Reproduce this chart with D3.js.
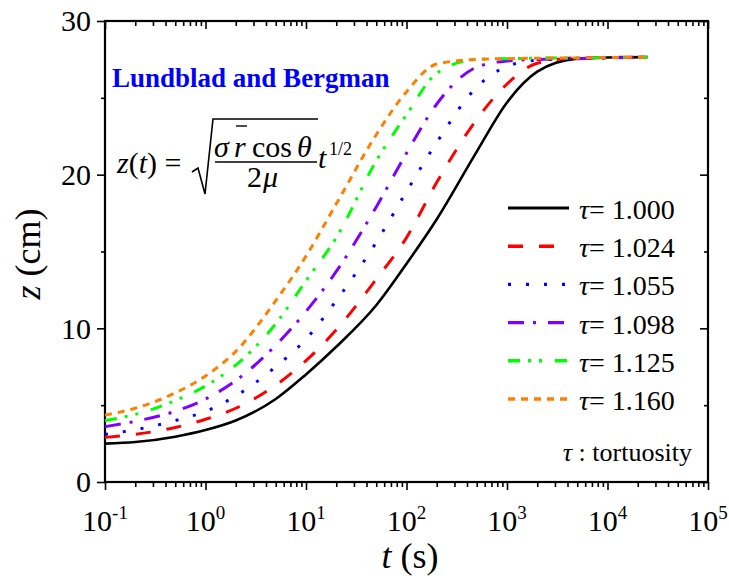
<!DOCTYPE html>
<html>
<head>
<meta charset="utf-8">
<script src="https://cdn.jsdelivr.net/npm/d3@7"></script>
<style>
body { margin: 0; background: #fff; }
svg text { font-family: "Liberation Serif", "Times New Roman", serif; fill: #000; }
</style>
</head>
<body>
<svg width="729" height="580"></svg>
<script>
// data
var times = [0.1, 0.2, 0.5, 1, 2, 5, 10, 20, 50, 100, 200, 500, 1000, 2000, 5000, 10000, 25000];
var tauLabels = ["1.000", "1.024", "1.055", "1.098", "1.125", "1.160"];
var zTau1000 = [2.5, 2.6, 2.95, 3.38, 4.0, 5.4, 7.0, 8.8, 11.5, 14.2, 17.1, 21.5, 24.7, 26.7, 27.55, 27.62, 27.65];
var zTau1024 = [2.9, 3.1, 3.55, 4.08, 4.8, 6.3, 7.9, 9.9, 13.2, 15.9, 19.5, 23.6, 25.9, 27.25, 27.6, 27.63, 27.65];
var zTau1055 = [3.1, 3.4, 4.0, 4.6, 5.6, 7.5, 9.3, 11.8, 15.6, 18.9, 22.1, 25.7, 27.05, 27.45, 27.55, 27.6, 27.65];
var zTau1098 = [3.6, 3.95, 4.6, 5.4, 6.6, 8.9, 11.1, 13.7, 17.9, 21.4, 24.6, 27.0, 27.4, 27.5, 27.55, 27.6, 27.65];
var zTau1125 = [4.0, 4.4, 5.3, 6.25, 7.6, 10.3, 13.1, 15.9, 20.9, 23.9, 26.6, 27.5, 27.55, 27.58, 27.6, 27.62, 27.65];
var zTau1160 = [4.35, 4.8, 5.8, 6.9, 8.5, 11.8, 14.7, 18.1, 22.6, 25.4, 27.2, 27.5, 27.55, 27.58, 27.6, 27.62, 27.65];
var xTickExp = [-1, 0, 1, 2, 3, 4, 5];
var yTicks = [0, 10, 20, 30];

var seriesValues = [zTau1000, zTau1024, zTau1055, zTau1098, zTau1125, zTau1160];
var colors = ["#000000", "#ff0000", "#0000ff", "#8000ff", "#00ff00", "#ff8000"];
var dashes = [null, "15,16", "3,15", "16,9,3,12", "12,8,3,8,3,13", "7,6"];
var widths = [2.6, 3, 3, 3, 3, 3];

var svg = d3.select("svg");
var plotLeft = 105, plotRight = 708, plotTop = 21, plotBottom = 482;

var x = d3.scaleLog().domain([0.1, 1e5]).range([plotLeft, plotRight]);
var y = d3.scaleLinear().domain([0, 30]).range([plotBottom, plotTop]);

// minor ticks
var xMinor = [];
xTickExp.slice(0, -1).forEach(function(e) {
  for (var k = 2; k <= 9; k++) xMinor.push(k * Math.pow(10, e));
});
var xMajor = xTickExp.map(function(e) { return Math.pow(10, e); });
var yMinor = [5, 15, 25];

function styleAxis(g) {
  g.select(".domain").remove();
  g.selectAll("line").attr("stroke", "#000").attr("stroke-width", 1.6);
  g.selectAll("text").remove();
}

// bottom (outward) and top (inward), both pointing down
svg.append("g").attr("transform", "translate(0," + plotBottom + ")")
  .call(d3.axisBottom(x).tickValues(xMajor).tickSize(8)).call(styleAxis);
svg.append("g").attr("transform", "translate(0," + plotBottom + ")")
  .call(d3.axisBottom(x).tickValues(xMinor).tickSize(5)).call(styleAxis);
svg.append("g").attr("transform", "translate(0," + plotTop + ")")
  .call(d3.axisBottom(x).tickValues(xMajor).tickSize(8)).call(styleAxis);
svg.append("g").attr("transform", "translate(0," + plotTop + ")")
  .call(d3.axisBottom(x).tickValues(xMinor).tickSize(5)).call(styleAxis);

// left (outward) and right (inward), both pointing left
svg.append("g").attr("transform", "translate(" + plotLeft + ",0)")
  .call(d3.axisLeft(y).tickValues(yTicks).tickSize(8)).call(styleAxis);
svg.append("g").attr("transform", "translate(" + plotLeft + ",0)")
  .call(d3.axisLeft(y).tickValues(yMinor).tickSize(4)).call(styleAxis);
svg.append("g").attr("transform", "translate(" + plotRight + ",0)")
  .call(d3.axisLeft(y).tickValues(yTicks).tickSize(8)).call(styleAxis);
svg.append("g").attr("transform", "translate(" + plotRight + ",0)")
  .call(d3.axisLeft(y).tickValues(yMinor).tickSize(4)).call(styleAxis);

// frame
svg.append("rect")
  .attr("x", plotLeft).attr("y", plotTop)
  .attr("width", plotRight - plotLeft).attr("height", plotBottom - plotTop)
  .attr("fill", "none").attr("stroke", "#000").attr("stroke-width", 2.2);

// tick labels
svg.selectAll(".ylab").data(yTicks).enter().append("text")
  .attr("class", "ylab")
  .attr("x", plotLeft - 14).attr("y", function(d) { return y(d); })
  .attr("dy", "0.34em")
  .attr("text-anchor", "end")
  .style("font-size", "30px")
  .text(function(d) { return d; });

var xl = svg.selectAll(".xlab").data(xTickExp).enter().append("text")
  .attr("class", "xlab")
  .attr("x", function(d) { return x(Math.pow(10, d)); })
  .attr("y", 531)
  .attr("text-anchor", "middle")
  .style("font-size", "30px");
xl.append("tspan").text("10");
xl.append("tspan").attr("dy", -12).style("font-size", "19px")
  .text(function(d) { return d < 0 ? "-" + (-d) : d; });

// axis titles
var xt = svg.append("text").attr("x", 410).attr("y", 568)
  .attr("text-anchor", "middle").style("font-size", "36px");
xt.append("tspan").style("font-style", "italic").text("t");
xt.append("tspan").text(" (s)");

var yt = svg.append("text")
  .attr("transform", "translate(40,254) rotate(-90)")
  .attr("text-anchor", "middle").style("font-size", "36px");
yt.append("tspan").style("font-style", "italic").text("z");
yt.append("tspan").text(" (cm)");

// curves
var line = d3.line()
  .x(function(d) { return x(d[0]); })
  .y(function(d) { return y(d[1]); })
  .curve(d3.curveMonotoneX);

seriesValues.forEach(function(vals, i) {
  var pts = times.map(function(t, j) { return [t, vals[j]]; });
  svg.append("path")
    .datum(pts)
    .attr("d", line)
    .attr("fill", "none")
    .attr("stroke", colors[i])
    .attr("stroke-width", widths[i])
    .attr("stroke-dasharray", dashes[i]);
});

// legend
var legRow0 = 208, legStep = 38.2;
tauLabels.forEach(function(lab, i) {
  var yy = legRow0 + i * legStep;
  svg.append("line")
    .attr("x1", 508).attr("x2", 569)
    .attr("y1", yy).attr("y2", yy)
    .attr("stroke", colors[i])
    .attr("stroke-width", i == 0 ? 3.2 : 3.4)
    .attr("stroke-dasharray", dashes[i]);
  var t = svg.append("text").attr("x", 579).attr("y", yy + 11)
    .style("font-size", "28px");
  t.append("tspan").style("font-style", "italic").text("τ");
  t.append("tspan").text("= " + lab);
});

var tort = svg.append("text").attr("x", 692).attr("y", 461)
  .attr("text-anchor", "end").style("font-size", "26px");
tort.append("tspan").style("font-style", "italic").text("τ");
tort.append("tspan").text(" : tortuosity");

// title
svg.append("text").attr("x", 112).attr("y", 87)
  .style("font-size", "27px").style("font-weight", "bold")
  .style("fill", "#0000ff")
  .text("Lundblad and Bergman");

// formula
var f = svg.append("g").style("font-size", "30px");
var lhs = f.append("text").attr("x", 117).attr("y", 173);
lhs.append("tspan").style("font-style", "italic").text("z");
lhs.append("tspan").text("(");
lhs.append("tspan").style("font-style", "italic").text("t");
lhs.append("tspan").text(") =");

f.append("path")
  .attr("d", "M192,172 L198,168 L205,194 L213,119 L318,119")
  .attr("fill", "none").attr("stroke", "#000").attr("stroke-width", 1.6);

f.append("text").attr("x", 214).attr("y", 157).style("font-style", "italic").text("σ");
f.append("text").attr("x", 234).attr("y", 157).style("font-style", "italic").text("r");
f.append("line").attr("x1", 236).attr("x2", 247).attr("y1", 126).attr("y2", 126)
  .attr("stroke", "#000").attr("stroke-width", 1.4);
f.append("text").attr("x", 252).attr("y", 157).text("cos");
f.append("text").attr("x", 297).attr("y", 157).style("font-style", "italic").text("θ");
f.append("line").attr("x1", 215).attr("x2", 317).attr("y1", 162).attr("y2", 162)
  .attr("stroke", "#000").attr("stroke-width", 1.5);
f.append("text").attr("x", 247).attr("y", 187).text("2");
f.append("text").attr("x", 263).attr("y", 187).style("font-style", "italic").text("μ");
f.append("text").attr("x", 318).attr("y", 168).style("font-style", "italic").text("t");
f.append("text").attr("x", 329).attr("y", 155).style("font-size", "18px").text("1/2");
</script>
</body>
</html>
